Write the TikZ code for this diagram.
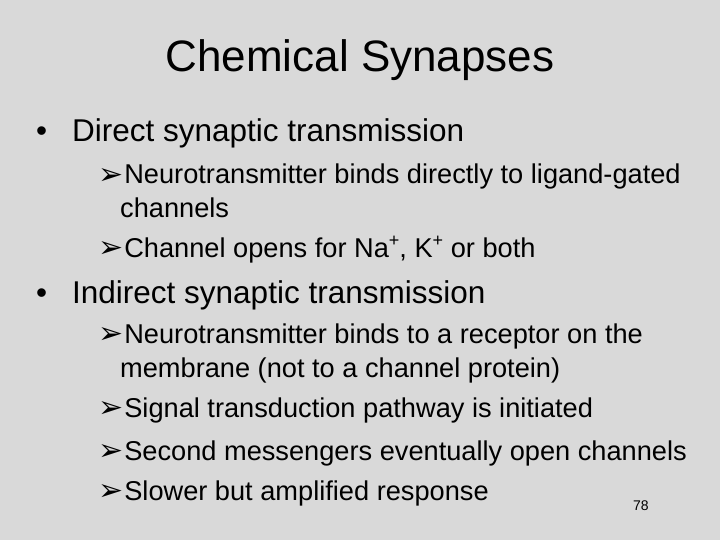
\documentclass[tikz,border=0pt]{standalone}
\usepackage{fontspec}
\setmainfont{Liberation Sans}
\newfontfamily\arrowfont{DejaVu Sans}
\usetikzlibrary{positioning}
\definecolor{slidegray}{RGB}{217,217,217}
\newcommand{\subarrow}{{\arrowfont\fontsize{30}{30}\selectfont\raisebox{-0.05ex}{➢}}\hspace{1pt}}
\newcommand{\ionplus}{\raisebox{0.7ex}{\fontsize{18}{18}\selectfont+}}
\begin{document}
\begin{tikzpicture}[x=1pt,y=-1pt,
  txt/.style={anchor=base west,inner sep=0pt,text=black},
  lvlone/.style={txt,font=\fontsize{31.5}{36}\selectfont},
  lvltwo/.style={txt,font=\fontsize{27.2}{34}\selectfont,align=left}]
\fill[slidegray] (0,0) rectangle (720,540);
\useasboundingbox (0,0) rectangle (720,540);
% title
\node[txt,anchor=base,font=\fontsize{44}{46}\selectfont] (title) at (360,72) {Chemical Synapses};
% direct
\node[lvlone] (bulA) at (36,142) {•};
\node[lvlone] (direct) at (72,142) {Direct synaptic transmission};
\node[lvltwo] (a1) at (98,184) {\subarrow Neurotransmitter binds directly to ligand-gated};
\node[lvltwo] (a2) at (120,218) {channels};
\node[lvltwo] (a3) at (98,257) {\subarrow Channel opens for Na\ionplus, K\ionplus{} or both};
% indirect
\node[lvlone] (bulB) at (36,303) {•};
\node[lvlone] (indirect) at (72,303) {Indirect synaptic transmission};
\node[lvltwo] (b1) at (98,343) {\subarrow Neurotransmitter binds to a receptor on the};
\node[lvltwo] (b2) at (120,377) {membrane (not to a channel protein)};
\node[lvltwo] (b3) at (98,417) {\subarrow Signal transduction pathway is initiated};
\node[lvltwo] (b4) at (98,460) {\subarrow Second messengers eventually open channels};
\node[lvltwo] (b5) at (98,500) {\subarrow Slower but amplified response};
\node[txt,font=\fontsize{14}{15}\selectfont] (page) at (633,510) {78};
\end{tikzpicture}
\end{document}
